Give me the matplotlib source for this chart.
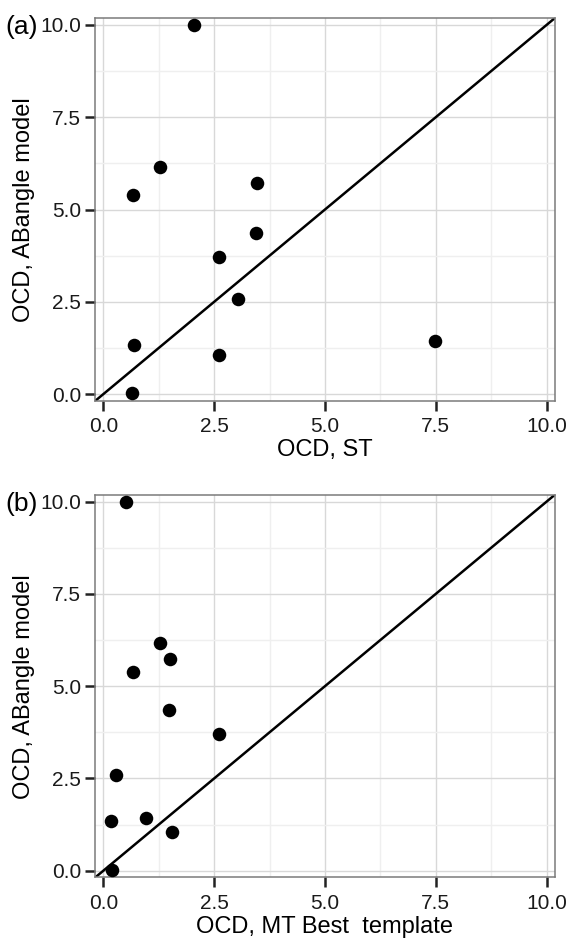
import numpy as np
import matplotlib.pyplot as plt
from matplotlib.ticker import MultipleLocator

# OCD values
abangle = [10.0, 5.39, 6.16, 5.73, 4.35, 3.70, 2.58, 1.34, 1.05, 0.02, 1.44]
st = [2.04, 0.66, 1.27, 3.46, 3.44, 2.60, 3.04, 0.70, 2.60, 0.65, 7.48]
mt_best = [0.50, 0.66, 1.27, 1.51, 1.48, 2.60, 0.29, 0.16, 1.55, 0.20, 0.97]

panels = [("(a)", st, "OCD, ST"), ("(b)", mt_best, "OCD, MT Best  template")]
ticks = [0.0, 2.5, 5.0, 7.5, 10.0]
tick_labels = ["0.0", "2.5", "5.0", "7.5", "10.0"]

plt.rcParams['font.family'] = ['Liberation Sans', 'DejaVu Sans']

fig = plt.figure(figsize=(5.69, 9.39), dpi=100)
W, H = 569, 939
# panel boxes in pixels: left, top, right, bottom
boxes = [(95, 18.3, 555, 400.7), (95, 495, 555, 877.3)]

for (tag, xs, xlabel), (l, t, r, b) in zip(panels, boxes):
    ax = fig.add_axes([l / W, 1 - b / H, (r - l) / W, (b - t) / H])
    ax.set_xlim(-0.19, 10.19)
    ax.set_ylim(-0.18, 10.18)
    ax.set_xticks(ticks)
    ax.set_xticklabels(tick_labels)
    ax.set_yticks(ticks)
    ax.set_yticklabels(tick_labels)
    ax.xaxis.set_minor_locator(MultipleLocator(1.25))
    ax.yaxis.set_minor_locator(MultipleLocator(1.25))
    ax.grid(True, which='major', color='#d8d8d8', linewidth=1.0)
    ax.grid(True, which='minor', color='#efefef', linewidth=1.0)
    ax.set_axisbelow(True)
    ax.tick_params(which='minor', length=0)
    ax.tick_params(which='major', direction='out', length=7, width=1.8,
                   color='#222222', labelsize=15, labelcolor='#1a1a1a', pad=3)
    ax.tick_params(axis='x', pad=5)
    for s in ax.spines.values():
        s.set_color('#7a7a7a')
        s.set_linewidth(1.1)

    ax.plot([-1, 11], [-1, 11], color='black', linewidth=1.8, zorder=2)
    ax.scatter(xs, abangle, s=95, color='black', zorder=3, linewidths=0)

    ax.set_xlabel(xlabel, fontsize=17, labelpad=2)
    ax.set_ylabel("OCD, ABangle model", fontsize=17, labelpad=4)
    fig.text(5 / W, 1 - (t - 3) / H, tag, fontsize=19, va='top', ha='left')

fig.savefig("out.png", dpi=100)
